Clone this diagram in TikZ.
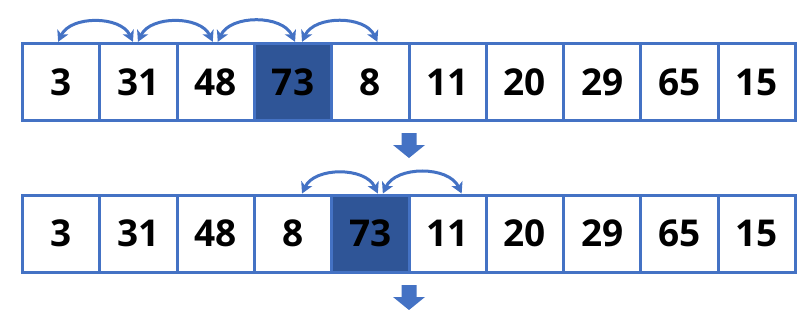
\documentclass[tikz,border=0pt]{standalone}
\usepackage{fontspec}
\setmainfont{Open Sans}
\usepackage{xcolor}
\usetikzlibrary{arrows.meta}

\definecolor{boxblue}{HTML}{4472C4}
\definecolor{hotblue}{HTML}{2F5597}

\begin{document}
\begin{tikzpicture}[x=1pt,y=-1pt,font=\bfseries\fontsize{37}{40}\selectfont,
  cell/.style={draw=boxblue,line width=3pt,minimum size=77.3pt,inner sep=0pt},
  hot/.style={cell,fill=hotblue},
  swap/.style={boxblue,line width=3pt,{Stealth[length=11pt,width=12pt,inset=3pt]}-{Stealth[length=11pt,width=12pt,inset=3pt]}}]
\useasboundingbox (0,0) rectangle (807,309);

% first row
\foreach \v/\s [count=\i] in {3/cell,31/cell,48/cell,73/hot,8/cell,11/cell,20/cell,29/cell,65/cell,15/cell}
  \node[\s] (a\i) at ({22.5+77.3*(\i-0.5)},82) {\v};

\draw[swap] ([xshift=-3pt]a1.north) to[bend left=65] ([xshift=-5.5pt]a2.north);
\draw[swap] ([xshift=-0.5pt]a2.north) to[bend left=65] ([xshift=-3pt]a3.north);
\draw[swap] ([xshift=2pt]a3.north) to[bend left=65] ([xshift=2pt]a4.north);
\draw[swap] ([xshift=9pt]a4.north) to[bend left=65] ([xshift=7pt]a5.north);

% second row
\foreach \v/\s [count=\i] in {3/cell,31/cell,48/cell,8/cell,73/hot,11/cell,20/cell,29/cell,65/cell,15/cell}
  \node[\s] (b\i) at ({22.5+77.3*(\i-0.5)},233.7) {\v};

\draw[swap] ([xshift=9pt]b4.north) to[bend left=65] ([xshift=7.5pt]b5.north);
\draw[swap] ([xshift=12.5pt]b5.north) to[bend left=65] ([xshift=14pt]b6.north);

% down arrows
\foreach \y in {133,285}
  \fill[boxblue] (401.5,\y) -- (416.5,\y) -- (416.5,\y+12) -- (425,\y+12)
    -- (409,\y+25) -- (393,\y+12) -- (401.5,\y+12) -- cycle;
\end{tikzpicture}
\end{document}
